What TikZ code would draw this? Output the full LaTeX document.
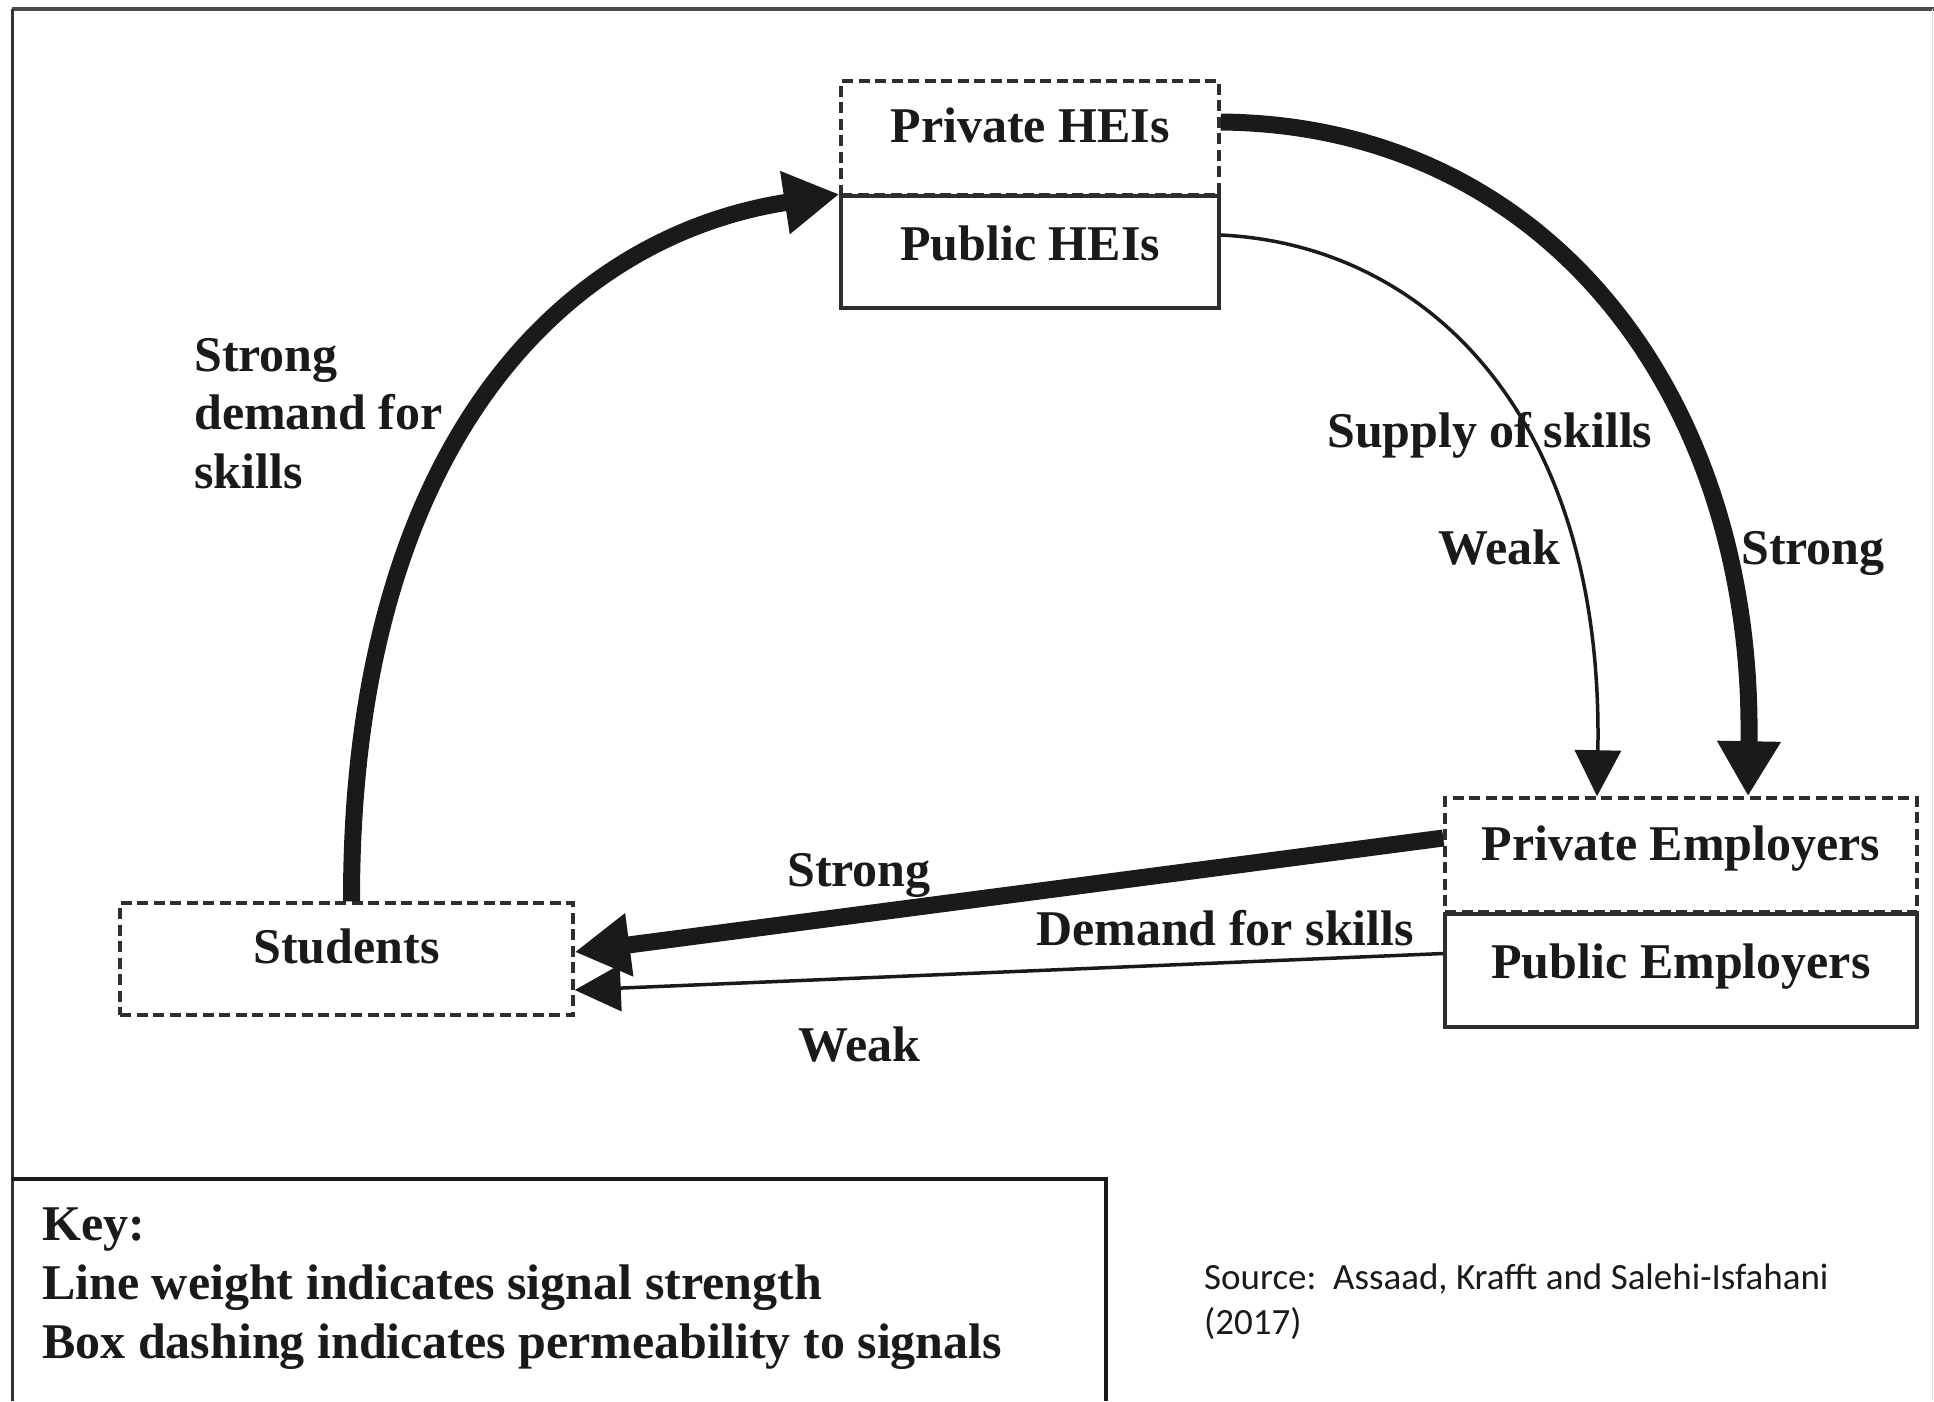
\documentclass[tikz,border=0pt]{standalone}
\usepackage{fontspec}
\setmainfont{Liberation Serif}
\newfontfamily\srcfont{Carlito}
\usetikzlibrary{arrows.meta}
\definecolor{ink}{HTML}{1A1A1A}
\definecolor{boxline}{HTML}{2E2E2E}
\begin{document}
\begin{tikzpicture}[x=1pt,y=-1pt,
  bigfont/.style={font=\bfseries\fontsize{50}{58}\selectfont, text=ink},
  boxbase/.style={bigfont, draw=boxline, line width=3.5pt, inner sep=0pt, text height=40pt},
  permeable/.style={boxbase, dash pattern=on 11pt off 5.5pt},
  solidbox/.style={boxbase},
  lbl/.style={bigfont, inner sep=0pt, anchor=base west},
  srclbl/.style={font=\srcfont\fontsize{37}{44}\selectfont, text=ink, inner sep=0pt, anchor=base west},
  strongarrow/.style={draw=ink, line width=17pt, -{Triangle[length=55pt,width=60pt]}},
  weakarrow/.style={draw=ink, line width=3.5pt, -{Triangle[length=46pt,width=46pt]}}
]
\fill[white] (0,0) rectangle (1934,1401);
\useasboundingbox (0,0) rectangle (1934,1401);

% outer frame and key box
\draw[line width=4pt, black!70] (12,9) -- (1934,9);
\draw[line width=3pt, black!80] (12,9) -- (12,1401);
\draw[line width=1.5pt, black!12] (1932.5,9) -- (1932.5,1401);
\draw[line width=3.5pt, ink] (12,1179) -- (1106,1179) -- (1106,1401);

% boxes
\node[permeable, minimum width=378pt, minimum height=114pt, text depth=32pt] (privhei) at (1030,138) {Private HEIs};
\node[solidbox, minimum width=378pt, minimum height=112pt, text depth=24pt] (pubhei) at (1030,252) {Public HEIs};
\node[permeable, minimum width=453pt, minimum height=112pt, text depth=32pt] (stud) at (346.5,959) {Students};
\node[permeable, minimum width=472pt, minimum height=114pt, text depth=30pt] (privemp) at (1681,855) {Private Employers};
\node[solidbox, minimum width=472pt, minimum height=113pt, text depth=25pt] (pubemp) at (1681,970.5) {Public Employers};

% connectors
\draw[strongarrow] ([xshift=5pt]stud.north) .. controls (351,450) and (560,237) .. (pubhei.north west);
\draw[strongarrow] ([yshift=16pt]privhei.east) .. controls (1550,125) and (1755,400) .. ([xshift=67pt]privemp.north);
\draw[weakarrow] ([yshift=17pt]pubhei.east) .. controls (1430,245) and (1604,420) .. ([xshift=-84pt]privemp.north);
\draw[strongarrow] ([yshift=17pt]privemp.west) -- ([yshift=7pt]stud.east);
\draw[weakarrow] ([yshift=17pt]pubemp.west) -- ([yshift=-31pt]stud.east);

% labels
\node[lbl] (dem1) at (194,371) {Strong};
\node[lbl] (dem2) at (194,429) {demand for};
\node[lbl] (dem3) at (194,488) {skills};
\node[lbl] (supply) at (1327,447) {Supply of skills};
\node[lbl] (weaksup) at (1438,564) {Weak};
\node[lbl] (strongsup) at (1741,564) {Strong};
\node[lbl] (strongdem) at (787,886) {Strong};
\node[lbl] (demand) at (1036,945) {Demand for skills};
\node[lbl] (weakdem) at (798,1061) {Weak};

% key
\node[lbl] (key1) at (42,1240) {Key:};
\node[lbl] (key2) at (42,1299) {Line weight indicates signal strength};
\node[lbl] (key3) at (42,1358) {Box dashing indicates permeability to signals};

% source
\node[srclbl] (src1) at (1204,1289) {Source:\ \ Assaad, Krafft and Salehi-Isfahani};
\node[srclbl] (src2) at (1204,1334) {(2017)};
\end{tikzpicture}
\end{document}
